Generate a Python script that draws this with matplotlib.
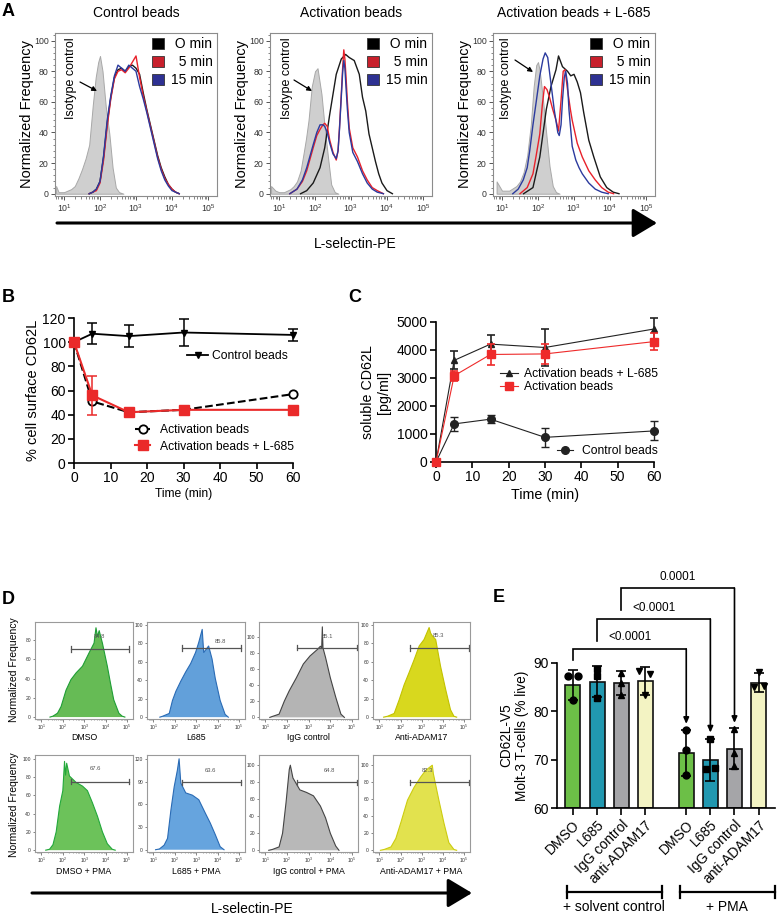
import matplotlib
matplotlib.use("Agg")
import matplotlib.pyplot as plt
import numpy as np
from matplotlib.patches import Patch, FancyArrowPatch
from matplotlib.lines import Line2D
from matplotlib.ticker import AutoMinorLocator, LogLocator, NullFormatter

plt.rcParams['font.family'] = ['Liberation Sans', 'DejaVu Sans']
plt.rcParams['mathtext.default'] = 'regular'

# ======================= DATA =======================
# ---- Panel A: flow histograms (x = log10 L-selectin-PE, y = normalized frequency)
A_titles = ['Control beads', 'Activation beads', 'Activation beads + L-685']
A_legend = [' O min', '  5 min', '15 min']

A1_iso_x = [0.78, 0.85, 1.0, 1.1, 1.2, 1.3, 1.4, 1.5, 1.6, 1.7, 1.8, 1.88, 1.95, 2.0, 2.07, 2.16, 2.26, 2.35, 2.44, 2.53, 2.65]
A1_iso_y = [5, 1, 1, 2, 3, 5, 10, 16, 23, 32, 58, 76, 86, 90, 80, 57, 39, 17, 4, 1, 0]
A1_x = [1.7, 1.8, 1.9, 2.0, 2.1, 2.2, 2.3, 2.4, 2.5, 2.6, 2.7, 2.8, 2.9, 3.0, 3.1, 3.2, 3.3, 3.4, 3.5, 3.6, 3.7, 3.8, 3.9, 4.0, 4.1, 4.2]
A1_0min = [0, 1, 3, 8, 24, 46, 63, 76, 81, 82, 80, 83, 84, 82, 78, 66, 55, 45, 35, 25, 17, 11, 6, 3, 1, 0]
A1_5min = [0, 1, 2, 7, 22, 44, 62, 75, 80, 81, 79, 82, 86, 90, 76, 64, 54, 44, 34, 24, 16, 10, 6, 3, 1, 0]
A1_15min = [0, 1, 3, 8, 25, 48, 64, 77, 84, 82, 80, 84, 82, 80, 70, 62, 53, 43, 33, 23, 15, 9, 5, 2, 1, 0]

A2_iso_x = [0.78, 0.9, 1.0, 1.14, 1.32, 1.41, 1.5, 1.6, 1.68, 1.75, 1.82, 1.91, 2.0, 2.07, 2.18, 2.27, 2.36, 2.45, 2.55, 2.65]
A2_iso_y = [5, 2, 1, 1, 3, 5, 8, 15, 26, 36, 48, 70, 80, 82, 65, 43, 24, 6, 1, 0]
A2_0min_x = [1.6, 1.77, 1.95, 2.14, 2.27, 2.41, 2.5, 2.59, 2.73, 2.85, 2.95, 3.09, 3.23, 3.32, 3.41, 3.5, 3.59, 3.68, 3.77, 3.86, 4.0, 4.15]
A2_0min = [0, 2, 7, 17, 30, 52, 65, 78, 88, 91, 89, 87, 78, 63, 54, 39, 30, 21, 13, 7, 2, 0]
A2_x = [1.3, 1.5, 1.65, 1.77, 1.95, 2.05, 2.14, 2.22, 2.27, 2.34, 2.41, 2.5, 2.59, 2.64, 2.68, 2.73, 2.77, 2.8, 2.83, 2.86, 2.9, 2.95, 3.05, 3.18, 3.32, 3.45, 3.59, 3.73, 3.9]
A2_5min = [0, 3, 8, 15, 30, 38, 42, 45, 46, 44, 35, 27, 22, 28, 43, 65, 83, 94, 88, 77, 60, 43, 30, 24, 15, 9, 4, 2, 0]
A2_15min = [0, 3, 9, 17, 32, 40, 45, 45, 44, 40, 33, 26, 23, 28, 42, 63, 80, 87, 82, 70, 55, 40, 27, 21, 13, 7, 3, 1, 0]

A3_iso_x = [0.85, 1.0, 1.2, 1.4, 1.5, 1.6, 1.7, 1.8, 1.88, 1.95, 2.0, 2.05, 2.14, 2.23, 2.32, 2.41, 2.5, 2.6]
A3_iso_y = [8, 2, 2, 5, 8, 14, 25, 45, 70, 84, 86, 80, 61, 39, 18, 5, 1, 0]
A3_0min_x = [1.6, 1.86, 2.05, 2.23, 2.36, 2.5, 2.57, 2.68, 2.82, 2.91, 3.0, 3.09, 3.18, 3.27, 3.41, 3.55, 3.73, 3.91, 4.09, 4.25]
A3_0min = [0, 4, 24, 55, 70, 81, 90, 83, 80, 77, 78, 73, 66, 53, 35, 24, 11, 4, 1, 0]
A3_5min_x = [1.5, 1.7, 1.86, 1.95, 2.05, 2.12, 2.18, 2.25, 2.32, 2.41, 2.5, 2.57, 2.64, 2.7, 2.75, 2.82, 2.9, 2.95, 3.09, 3.23, 3.41, 3.59, 3.77, 3.95, 4.1]
A3_5min = [0, 4, 13, 25, 39, 58, 70, 68, 63, 55, 48, 41, 61, 80, 81, 68, 55, 48, 33, 24, 15, 9, 4, 1, 0]
A3_15min_x = [1.3, 1.45, 1.59, 1.7, 1.77, 1.86, 1.95, 2.05, 2.14, 2.2, 2.27, 2.36, 2.45, 2.55, 2.59, 2.64, 2.68, 2.73, 2.77, 2.82, 2.86, 2.95, 3.05, 3.14, 3.23, 3.41, 3.59, 3.77, 3.95]
A3_15min = [0, 3, 9, 17, 28, 45, 60, 77, 88, 92, 89, 72, 55, 40, 38, 45, 61, 76, 80, 72, 55, 31, 22, 17, 13, 7, 3, 1, 0]

# ---- Panel B: % cell surface CD62L
B_time = [0, 5, 15, 30, 60]
B_ctrl = [100, 107, 105, 108, 106]
B_ctrl_err = [0, 8.5, 9.3, 11.5, 5]
B_act = [100, 51, 42, 44, 57]
B_act_l685 = [100, 56, 42, 44, 44]
B_act_l685_err = [0, 16, 0, 0, 0]
B_labels = ['Control beads', 'Activation beads', 'Activation beads + L-685']

# ---- Panel C: soluble CD62L [pg/ml]
C_time = [0, 5, 15, 30, 60]
C_l685 = [0, 3630, 4210, 4090, 4750]
C_l685_err = [0, 320, 320, 650, 380]
C_act = [0, 3080, 3840, 3860, 4300]
C_act_err = [0, 180, 380, 370, 300]
C_ctrl = [0, 1360, 1530, 880, 1110]
C_ctrl_err = [0, 240, 150, 330, 340]
C_labels = ['Activation beads + L-685', 'Activation beads', 'Control beads']

# ---- Panel D: flow histograms
D_names = ['DMSO', 'L685', 'IgG control', 'Anti-ADAM17',
           'DMSO + PMA', 'L685 + PMA', 'IgG control + PMA', 'Anti-ADAM17 + PMA']
D_gate_pct = ['84.8', '85.8', '85.1', '85.3', '67.6', '63.6', '64.8', '82.3']
D1_x = [1.4, 1.54, 1.75, 1.92, 2.15, 2.38, 2.62, 2.92, 3.23, 3.46, 3.55, 3.62, 3.7, 3.85, 4.08, 4.23, 4.38, 4.62, 4.77, 4.9]
D1_y = [0, 1, 4, 11, 28, 39, 46, 53, 67, 77, 93, 84, 90, 77, 53, 35, 18, 4, 1, 0]
D2_x = [1.3, 1.43, 1.74, 1.89, 2.05, 2.28, 2.51, 2.74, 2.97, 3.12, 3.28, 3.35, 3.58, 3.74, 3.89, 4.12, 4.35, 4.5]
D2_y = [0, 1, 4, 18, 28, 39, 49, 58, 70, 81, 95, 70, 77, 63, 42, 18, 3, 0]
D3_x = [1.2, 1.3, 1.63, 1.87, 2.1, 2.43, 2.75, 3.06, 3.4, 3.54, 3.6, 3.63, 3.66, 3.78, 4.0, 4.25, 4.49, 4.65]
D3_y = [0, 1, 4, 20, 33, 49, 66, 76, 84, 88, 86, 112, 86, 74, 49, 25, 4, 0]
D4_x = [1.2, 1.39, 1.7, 1.94, 2.17, 2.4, 2.64, 2.88, 3.11, 3.35, 3.42, 3.5, 3.66, 3.89, 4.13, 4.36, 4.52, 4.65]
D4_y = [0, 1, 4, 19, 35, 48, 62, 77, 84, 97, 91, 88, 84, 55, 30, 8, 1, 0]
D5_x = [1.2, 1.38, 1.54, 1.69, 1.85, 2.0, 2.08, 2.13, 2.18, 2.31, 2.62, 2.92, 3.15, 3.38, 3.62, 3.85, 4.08, 4.31, 4.45]
D5_y = [0, 1, 6, 20, 48, 65, 97, 82, 95, 81, 74, 70, 65, 52, 37, 20, 7, 1, 0]
D6_x = [1.1, 1.28, 1.5, 1.66, 1.82, 1.97, 2.12, 2.2, 2.28, 2.51, 2.82, 3.12, 3.43, 3.66, 3.89, 4.12, 4.3]
D6_y = [0, 1, 6, 15, 53, 83, 105, 120, 88, 75, 72, 66, 48, 35, 20, 4, 0]
D7_x = [1.15, 1.32, 1.63, 1.79, 1.95, 2.1, 2.15, 2.27, 2.59, 2.9, 3.22, 3.54, 3.78, 4.0, 4.25, 4.4]
D7_y = [0, 1, 4, 20, 56, 95, 100, 85, 71, 68, 64, 52, 38, 20, 5, 0]
D8_x = [1.05, 1.23, 1.55, 1.78, 2.02, 2.33, 2.64, 2.95, 3.19, 3.5, 3.55, 3.81, 4.05, 4.28, 4.52, 4.65]
D8_y = [0, 1, 4, 14, 33, 59, 74, 86, 94, 100, 90, 59, 32, 9, 1, 0]
D_gate_lo = [2.38, 2.35, 2.46, 2.45, 2.38, 2.35, 2.46, 2.45]
D_gate_hi = [5.1, 5.08, 5.23, 5.22, 5.1, 5.08, 5.23, 5.22]
D_gate_y = [71, 75, 86, 75, 75, 89, 80, 80]

# ---- Panel E: CD62L-V5 Molt-3 T-cells (% live)
E_labels = ['DMSO', 'L685', 'IgG control', 'anti-ADAM17',
            'DMSO', 'L685', 'IgG control', 'anti-ADAM17']
E_means = [85.5, 86.1, 85.8, 86.3, 71.4, 69.9, 72.3, 85.9]
E_sd = [3.1, 3.2, 2.5, 2.9, 4.8, 4.4, 4.2, 2.0]
E_points = [[87.4, 87.4, 82.3], [88.8, 87.4, 82.8], [88.0, 85.9, 83.4], [88.4, 87.8, 83.4],
            [76.2, 71.9, 66.9], [74.3, 68.1, 68.3], [76.4, 71.4, 68.6], [88.1, 85.0, 85.2]]
E_pvalues = ['<0.0001', '<0.0001', '0.0001']
E_groups = ['+ solvent control', '+ PMA']

# ======================= LAYOUT HELPERS =======================
W, H = 778, 917
fig = plt.figure(figsize=(W / 100, H / 100), dpi=100)


def fx(x):
    return x / W


def fy(y):
    return 1 - y / H


def add_ax(x0, y0, x1, y1):
    return fig.add_axes([fx(x0), fy(y1), (x1 - x0) / W, (y1 - y0) / H])


def ftext(x, y, s, **kw):
    return fig.text(fx(x), fy(y), s, **kw)


def farrow(x0, y0, x1, y1, **kw):
    a = FancyArrowPatch((fx(x0), fy(y0)), (fx(x1), fy(y1)), transform=fig.transFigure, **kw)
    fig.add_artist(a)


def fline(xs, ys, **kw):
    fig.add_artist(Line2D([fx(v) for v in xs], [fy(v) for v in ys], transform=fig.transFigure, **kw))


def log_axis(ax, xlo, xhi, labelsize, spine_col):
    ax.set_xscale('log')
    ax.set_xlim(10 ** xlo, 10 ** xhi)
    for s in ax.spines.values():
        s.set_color(spine_col)
        s.set_linewidth(0.8)
    ax.set_xticks([1e1, 1e2, 1e3, 1e4, 1e5])
    ax.set_xticklabels([r'$10^{%d}$' % i for i in range(1, 6)])
    ax.xaxis.set_minor_locator(LogLocator(base=10, subs=np.arange(2, 10)))
    ax.xaxis.set_minor_formatter(NullFormatter())
    ax.tick_params(which='both', color='#555555', labelsize=labelsize, labelcolor='#333333', direction='out')


# ======================= PANEL A =======================
A_boxes = [(55, 33, 217, 196), (270, 33, 432, 196), (493, 33, 655, 196)]
A_iso = [(A1_iso_x, A1_iso_y), (A2_iso_x, A2_iso_y), (A3_iso_x, A3_iso_y)]
A_curves = [
    [(A1_x, A1_0min), (A1_x, A1_5min), (A1_x, A1_15min)],
    [(A2_0min_x, A2_0min), (A2_x, A2_5min), (A2_x, A2_15min)],
    [(A3_0min_x, A3_0min), (A3_5min_x, A3_5min), (A3_15min_x, A3_15min)],
]
A_line_cols = ['#1a1a1a', '#e8212b', '#2b3a9e']
A_patch_cols = ['#000000', '#c8202c', '#2e3192']
A_iso_text_x = [71, 287, 506]
A_arrows = [(80, 82, 97, 91), (294, 80, 312, 91), (515, 60, 533, 72)]

for i, (x0, y0, x1, y1) in enumerate(A_boxes):
    ax = add_ax(x0, y0, x1, y1)
    log_axis(ax, 0.75, 5.25, 6.3, '#8c8c8c')
    ax.set_ylim(-1.5, 105)
    ax.set_yticks([0, 20, 40, 60, 80, 100])
    ax.yaxis.set_minor_locator(AutoMinorLocator(5))
    ax.tick_params(which='major', length=3, width=0.7, pad=1.5)
    ax.tick_params(which='minor', length=1.8, width=0.5)
    ax.set_ylabel('Normalized Frequency', fontsize=10.5, labelpad=0)
    ix, iy = A_iso[i]
    ax.fill_between(10 ** np.asarray(ix), iy, 0, facecolor='#cfcfcf', edgecolor='#a8a8a8', lw=0.7)
    for (cx, cy), col in zip(A_curves[i], A_line_cols):
        ax.plot(10 ** np.asarray(cx), cy, color=col, lw=1.0)
    handles = [Patch(facecolor=c, edgecolor='#333333', lw=0.6) for c in A_patch_cols]
    ax.legend(handles, A_legend, loc='upper right', bbox_to_anchor=(0.975, 0.975), frameon=False,
              fontsize=10, borderpad=0, borderaxespad=0, handlelength=0.85, handleheight=0.85,
              handletextpad=0.5, labelspacing=0.3)
    ftext((x0 + x1) / 2, 13, A_titles[i], fontsize=10, ha='center', va='center')
    ftext(A_iso_text_x[i], 78, 'Isotype control', fontsize=9, rotation=90, ha='center', va='center')
    ax0, ay0, ax1, ay1 = A_arrows[i]
    farrow(ax0, ay0, ax1, ay1, arrowstyle='-|>', mutation_scale=7, lw=0.9, color='black',
           shrinkA=0, shrinkB=0)

farrow(57, 223, 657, 223, arrowstyle='-|>,head_length=0.75,head_width=0.45', mutation_scale=20,
       lw=2.2, color='black', shrinkA=0, shrinkB=0)
ftext(355, 244, 'L-selectin-PE', fontsize=10, ha='center', va='center')
ftext(2, 12, 'A', fontsize=13, fontweight='bold', ha='left', va='center')


# ======================= PANEL B =======================
def gp_axes(ax):
    for s in ['top', 'right']:
        ax.spines[s].set_visible(False)
    for s in ['left', 'bottom']:
        ax.spines[s].set_linewidth(1.2)
    ax.tick_params(which='major', length=4, width=1.2, labelsize=10, direction='out', pad=2)


axB = add_ax(74, 318, 293, 463)
gp_axes(axB)
axB.set_xlim(0, 60)
axB.set_ylim(0, 120)
axB.set_xticks([0, 10, 20, 30, 40, 50, 60])
axB.set_yticks([0, 20, 40, 60, 80, 100, 120])
sty_b1 = dict(color='black', lw=1.3, marker='v', ms=5)
sty_b2 = dict(color='black', lw=1.5, ls='--', marker='o', ms=6, mfc='white', mec='black', mew=1.3)
sty_b3 = dict(color='#ea2a2a', lw=1.5, marker='s', ms=7)
axB.errorbar(B_time, B_ctrl, yerr=B_ctrl_err, capsize=3.5, elinewidth=1.1, capthick=1.1,
             clip_on=False, zorder=3, **sty_b1)
axB.errorbar(B_time, B_act, clip_on=False, zorder=4, **sty_b2)
axB.errorbar(B_time, B_act_l685, yerr=B_act_l685_err, capsize=3.5, elinewidth=1.1, capthick=1.1,
             clip_on=False, zorder=5, **sty_b3)
axB.set_xlabel('Time (min)', fontsize=8.7, labelpad=2)
axB.set_ylabel('% cell surface CD62L', fontsize=10.5, labelpad=2)
lb1 = axB.legend([Line2D([], [], **sty_b1)], [B_labels[0]], loc='center left', bbox_to_anchor=(0.516, 0.738),
                 frameon=False, fontsize=8.7, borderpad=0, borderaxespad=0, handlelength=1.75,
                 handletextpad=0.3)
axB.add_artist(lb1)
axB.legend([Line2D([], [], **sty_b2), Line2D([], [], **sty_b3)], B_labels[1:], loc='center left',
           bbox_to_anchor=(0.279, 0.169), frameon=False, fontsize=8.7, borderpad=0, borderaxespad=0,
           handlelength=1.25, handletextpad=0.8, labelspacing=0.35)
ftext(2, 298, 'B', fontsize=13, fontweight='bold', ha='left', va='center')

# ======================= PANEL C =======================
axC = add_ax(436, 322, 654, 462)
gp_axes(axC)
axC.set_xlim(0, 60)
axC.set_ylim(0, 5000)
axC.set_xticks([0, 10, 20, 30, 40, 50, 60])
axC.set_yticks([0, 1000, 2000, 3000, 4000, 5000])
sty_c1 = dict(color='#222222', lw=0.8, marker='^', ms=5)
sty_c2 = dict(color='#ee2a2a', lw=0.8, marker='s', ms=5.5)
sty_c3 = dict(color='#222222', lw=0.8, marker='o', ms=5.5)
axC.errorbar(C_time, C_l685, yerr=C_l685_err, capsize=3, elinewidth=1.2, capthick=1.2,
             clip_on=False, zorder=3, **sty_c1)
axC.errorbar(C_time, C_act, yerr=C_act_err, capsize=3, elinewidth=1.2, capthick=1.2,
             clip_on=False, zorder=4, **sty_c2)
axC.errorbar(C_time, C_ctrl, yerr=C_ctrl_err, capsize=3, elinewidth=1.0, capthick=1.0,
             clip_on=False, zorder=3, **sty_c3)
axC.set_xlabel('Time (min)', fontsize=10.3, labelpad=3)
axC.set_ylabel('soluble CD62L\n[pg/ml]', fontsize=10.3, labelpad=4, linespacing=1.2)
lc1 = axC.legend([Line2D([], [], **sty_c1), Line2D([], [], **sty_c2)], C_labels[:2], loc='center left',
                 bbox_to_anchor=(0.294, 0.582), frameon=False, fontsize=8.7, borderpad=0, borderaxespad=0,
                 handlelength=1.5, handletextpad=0.5, labelspacing=0.1)
axC.add_artist(lc1)
axC.legend([Line2D([], [], **sty_c3)], C_labels[2:], loc='center left', bbox_to_anchor=(0.555, 0.079),
           frameon=False, fontsize=8.7, borderpad=0, borderaxespad=0, handlelength=1.33, handletextpad=0.75)
ftext(348, 298, 'C', fontsize=13, fontweight='bold', ha='left', va='center')

# ======================= PANEL D =======================
D_cols = [(35, 133), (147, 245), (259, 358), (373, 470)]
D_rows = [(622, 719), (755, 852)]
D_hists = [(D1_x, D1_y), (D2_x, D2_y), (D3_x, D3_y), (D4_x, D4_y),
           (D5_x, D5_y), (D6_x, D6_y), (D7_x, D7_y), (D8_x, D8_y)]
D_fill = ['#66bb55', '#62a0da', '#b4b4b4', '#d8d81e', '#6cc25a', '#66a4de', '#b8b8b8', '#e2e24e']
D_edge = ['#1f9e35', '#2a6bb5', '#444444', '#c2c200', '#22a83a', '#2a6bb5', '#444444', '#cccc10']
D_ylim = [(-2, 99), (-2, 103), (-2, 118), (-2, 103), (-2, 104), (-3, 125), (-2, 112), (-2, 112)]
D_yticks = [[0, 20, 40, 60, 80], [0, 20, 40, 60, 80, 100], [0, 20, 40, 60, 80, 100], [0, 20, 40, 60, 80, 100],
            [0, 20, 40, 60, 80, 100], [0, 30, 60, 90, 120], [0, 20, 40, 60, 80, 100], [0, 20, 40, 60, 80, 100]]
D_label_x = [3.7, 4.12, 3.86, 3.8, 3.54, 3.66, 3.94, 3.27]
D_label_dy = [13, 7, 14, 13, 14, 16, 14, 14]

for k in range(8):
    r, c = divmod(k, 4)
    x0, x1 = D_cols[c]
    y0, y1 = D_rows[r]
    ax = add_ax(x0, y0, x1, y1)
    log_axis(ax, 0.7, 5.28, 3.6, '#9a9a9a')
    ax.set_ylim(*D_ylim[k])
    ax.set_yticks(D_yticks[k])
    ax.tick_params(which='major', length=1.8, width=0.5, pad=1)
    ax.tick_params(which='minor', length=1.0, width=0.4)
    hx, hy = D_hists[k]
    X = 10 ** np.asarray(hx)
    ax.fill_between(X, hy, 0, facecolor=D_fill[k], lw=0)
    ax.plot(X, hy, color=D_edge[k], lw=0.8)
    ax.plot([10 ** D_gate_lo[k], 10 ** D_gate_hi[k]], [D_gate_y[k], D_gate_y[k]], color='#555555', lw=0.9)
    for g in (D_gate_lo[k], D_gate_hi[k]):
        ax.plot([10 ** g, 10 ** g], [D_gate_y[k] - 3, D_gate_y[k] + 3], color='#555555', lw=0.9)
    ax.text(10 ** D_label_x[k], D_gate_y[k] + D_label_dy[k], D_gate_pct[k], fontsize=4.2,
            color='#555555', ha='center', va='center')
    ftext((x0 + x1) / 2, y1 + (18 if r == 0 else 20), D_names[k], fontsize=6.3, ha='center', va='center')

ftext(14, 670, 'Normalized Frequency', fontsize=7.5, rotation=90, ha='center', va='center')
ftext(14, 805, 'Normalized Frequency', fontsize=7.5, rotation=90, ha='center', va='center')
farrow(32, 893, 472, 893, arrowstyle='-|>,head_length=0.75,head_width=0.45', mutation_scale=20,
       lw=2.2, color='black', shrinkA=0, shrinkB=0)
ftext(252, 909, 'L-selectin-PE', fontsize=10, ha='center', va='center')
ftext(2, 599, 'D', fontsize=13, fontweight='bold', ha='left', va='center')

# ======================= PANEL E =======================
axE = add_ax(557, 663, 775, 808)
gp_axes(axE)
E_pos = np.r_[np.arange(4), np.arange(4) + 4.7]
E_colors = ['#6cbf47', '#2198b0', '#a5a5a8', '#f3f3c3'] * 2
E_markers = ['o', 's', '^', 'v'] * 2
E_jit = [[-0.2, 0.2, 0], [0, 0, 0], [0, 0, 0], [-0.25, 0.2, 0],
         [0, 0, 0], [0, -0.18, 0.2], [0, 0, 0], [0, -0.2, 0.23]]
axE.bar(E_pos, np.asarray(E_means) - 60, bottom=60, width=0.62, color=E_colors,
        edgecolor='#111111', lw=1.2, zorder=2)
axE.errorbar(E_pos, E_means, yerr=E_sd, fmt='none', ecolor='black', elinewidth=1.2,
             capsize=3.5, capthick=1.2, zorder=3)
for p, pts, m, jit in zip(E_pos, E_points, E_markers, E_jit):
    axE.plot(p + np.asarray(jit), pts, ls='none', marker=m, ms=5, color='black', zorder=4)
axE.set_xlim(-0.66, 8.38)
axE.set_ylim(60, 90)
axE.set_yticks([60, 70, 80, 90])
axE.set_xticks(E_pos)
axE.set_xticklabels(E_labels, rotation=45, ha='right', rotation_mode='anchor', fontsize=10)
axE.tick_params(axis='x', length=5)
axE.set_ylabel('CD62L-V5\nMolt-3 T-cells (% live)', fontsize=9.8, labelpad=3, linespacing=1.2)

# significance brackets: (left bar, right bar, bracket height, left end, right end, text y)
E_brackets = [(0, 4, 92.9, 90.6, 77.4, 95.3),
              (1, 5, 99.1, 94.6, 75.6, 101.4),
              (2, 6, 105.5, 101.0, 77.6, 107.8)]
for (i, j, yh, yl, yr, ty), ptxt in zip(E_brackets, E_pvalues):
    xl, xr = E_pos[i], E_pos[j]
    axE.plot([xl, xl, xr], [yl, yh, yh], color='black', lw=1.2, clip_on=False,
             solid_joinstyle='miter')
    axE.annotate('', xy=(xr, yr), xytext=(xr, yh), annotation_clip=False,
                 arrowprops=dict(arrowstyle='-|>,head_length=0.45,head_width=0.2', color='black',
                                 lw=1.2, shrinkA=0, shrinkB=0, mutation_scale=8))
    axE.text((xl + xr) / 2, ty, ptxt, fontsize=8.5, ha='center', va='center')

# group brackets below
for (gx0, gx1, gcx), gl in zip([(567, 662, 614), (680, 775, 727)], E_groups):
    fline([gx0, gx1], [892, 892], color='black', lw=1.6)
    fline([gx0, gx0], [886, 898], color='black', lw=1.6)
    fline([gx1, gx1], [886, 898], color='black', lw=1.6)
    ftext(gcx, 907, gl, fontsize=10, ha='center', va='center')
ftext(493, 597, 'E', fontsize=13, fontweight='bold', ha='left', va='center')

fig.savefig('out.png', dpi=100)
